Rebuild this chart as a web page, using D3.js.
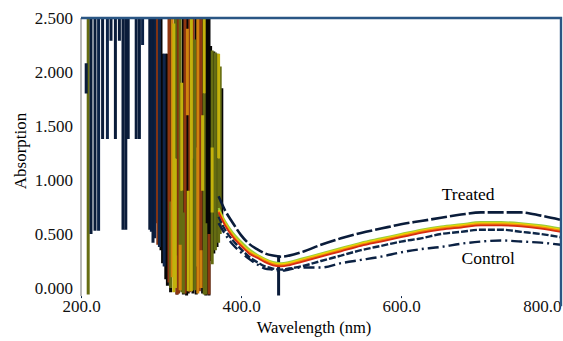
<!DOCTYPE html>
<html>
<head>
<meta charset="utf-8">
<script src="https://cdn.jsdelivr.net/npm/d3@7"></script>
<style>
  html, body { margin: 0; padding: 0; background: #fff; }
</style>
</head>
<body>
<div id="chart"></div>
<script>
// Smooth part of the spectra (nm -> absorbance)
const wavelengths = [372, 380, 390, 400, 410, 420, 430, 440, 450, 460, 475, 500, 525, 550, 575, 600, 625, 650, 675, 700, 725, 750, 775, 800];
const treatedAbs = [0.85, 0.72, 0.60, 0.49, 0.41, 0.36, 0.32, 0.30, 0.29, 0.30, 0.33, 0.40, 0.46, 0.51, 0.55, 0.59, 0.62, 0.65, 0.68, 0.70, 0.70, 0.70, 0.67, 0.63];
const greenAbs   = [0.74, 0.62, 0.51, 0.43, 0.36, 0.31, 0.27, 0.24, 0.23, 0.24, 0.27, 0.32, 0.37, 0.42, 0.46, 0.50, 0.54, 0.57, 0.59, 0.61, 0.61, 0.60, 0.58, 0.55];
const yellowAbs  = [0.72, 0.60, 0.49, 0.41, 0.34, 0.30, 0.26, 0.23, 0.22, 0.23, 0.26, 0.31, 0.36, 0.41, 0.45, 0.49, 0.53, 0.56, 0.58, 0.60, 0.60, 0.59, 0.57, 0.54];
const orangeAbs  = [0.71, 0.59, 0.48, 0.40, 0.33, 0.29, 0.25, 0.22, 0.21, 0.22, 0.25, 0.30, 0.35, 0.40, 0.44, 0.48, 0.52, 0.55, 0.57, 0.59, 0.59, 0.58, 0.56, 0.53];
const redAbs     = [0.70, 0.58, 0.47, 0.39, 0.32, 0.28, 0.24, 0.21, 0.20, 0.21, 0.24, 0.29, 0.34, 0.39, 0.43, 0.47, 0.51, 0.54, 0.56, 0.58, 0.58, 0.57, 0.55, 0.52];
const navyAbs    = [0.66, 0.54, 0.44, 0.36, 0.29, 0.24, 0.20, 0.18, 0.17, 0.18, 0.20, 0.25, 0.30, 0.35, 0.39, 0.43, 0.46, 0.50, 0.52, 0.54, 0.54, 0.52, 0.50, 0.47];
const controlAbs = [0.60, 0.50, 0.40, 0.33, 0.27, 0.22, 0.18, 0.17, 0.16, 0.17, 0.19, 0.19, 0.23, 0.26, 0.29, 0.33, 0.36, 0.38, 0.41, 0.43, 0.44, 0.43, 0.42, 0.40];

// Noisy UV part: [wavelength, upper value, lower value] of each swing
const blackNoise = [[300, 2.6, 0.35], [302, 2.17, 0.23], [306, 2.17, 0.08], [308, 2.17, 0.02], [312, 2.6, -0.04],
  [320, 2.6, -0.06], [328, 2.6, -0.06], [332, 2.6, -0.07], [334, 2.6, -0.05], [340, 2.6, -0.05], [344, 2.6, -0.06],
  [352, 2.6, -0.05], [356, 2.6, -0.07], [358, 2.6, -0.06], [360, 2.6, -0.07], [362, 2.24, 0.25], [366, 2.19, 0.32],
  [370, 2.17, 0.38], [376, 1.85, 0.65]];
const brownNoise = [[294, 2.6, 0.60], [296, 2.6, 0.40], [310, 2.6, 0.05], [322, 2.6, -0.05], [330, 2.6, -0.05],
  [336, 2.6, -0.04], [348, 2.6, -0.03], [350, 2.6, 0.0], [340, 2.6, 1.2], [360, 0.5, -0.06], [320, 0.3, -0.06]];
const orangeNoise = [[314, 2.6, 0.10], [346, 2.6, -0.05], [324, 0.4, -0.02], [350, 0.35, 0.0], [333, 2.4, 1.6]];
const yellowNoise = [[316, 2.45, -0.04], [338, 2.6, -0.03], [372, 2.17, 1.2],
  [318, 1.2, 0.0], [326, 1.9, 0.9], [334, 0.9, -0.03], [352, 1.6, 0.9], [354, 2.5, 1.8], [364, 1.3, 0.7]];
const oliveNoise = [[209, 2.6, -0.06], [318, 2.6, 1.2], [324, 2.6, -0.02], [326, 0.9, -0.04], [342, 2.3, -0.02],
  [354, 1.8, -0.06], [364, 2.2, 0.22], [368, 2.18, 0.35], [374, 2.05, 0.5],
  [328, 0.7, -0.05], [344, 1.3, 0.2], [312, 0.8, 0.0], [356, 0.6, -0.06], [372, 1.2, 0.42]];
const navyNoise = [[298, 2.6, 0.38], [304, 2.17, 0.20]];
const controlNoise = [[222, 2.6, 0.53], [233, 2.6, 1.38], [277, 2.6, 2.25], [288, 2.6, 0.52], [292, 2.6, 0.46]];
const treatedNoise = [[206.5, 2.08, 1.80], [212.5, 2.6, 0.50], [217.5, 2.6, 0.53], [227, 2.6, 1.38], [237.5, 2.6, 2.29],
  [243, 2.6, 1.38], [248, 2.6, 2.29], [252.5, 2.6, 0.54], [256, 2.6, 0.54], [259, 2.6, 1.38], [269, 2.6, 1.38],
  [273, 2.6, 1.38], [286, 2.6, 0.54], [290, 2.6, 0.42], [447, 0.30, -0.07]];

const xTicks = [200, 400, 600, 800];
const yTicks = [0, 0.5, 1.0, 1.5, 2.0, 2.5];

const FONT = '"Liberation Serif", "DejaVu Serif", "Times New Roman", Times, serif';
const W = 563, H = 341;
const svg = d3.select('#chart').append('svg')
  .attr('width', W).attr('height', H)
  .style('font-family', FONT);

const x = d3.scaleLinear().domain([200, 800]).range([81, 561]);
const y = d3.scaleLinear().domain([0, 2.5]).range([288, 18]);

svg.append('clipPath').attr('id', 'plot')
  .append('rect')
  .attr('x', x(200)).attr('y', y(2.5))
  .attr('width', x(800) - x(200)).attr('height', y(-0.085) - y(2.5));

const plot = svg.append('g').attr('clip-path', 'url(#plot)');

// Noise strips, back to front
const noiseSets = [
  { data: blackNoise, color: '#070707' },
  { data: brownNoise, color: '#8e3610' },
  { data: oliveNoise, color: '#656c12' },
  { data: orangeNoise, color: '#d0820e' },
  { data: yellowNoise, color: '#c2b20c' },
  { data: navyNoise, color: '#10264a' },
  { data: controlNoise, color: '#0c2246' },
  { data: treatedNoise, color: '#0a1c3a' }
];

noiseSets.forEach(s => {
  plot.append('g')
    .selectAll('line')
    .data(s.data)
    .join('line')
    .attr('x1', d => x(d[0])).attr('x2', d => x(d[0]))
    .attr('y1', d => y(d[1])).attr('y2', d => y(d[2]))
    .attr('stroke', s.color)
    .attr('stroke-width', 3);
});

// Smooth curves
const line = d3.line()
  .x((d, i) => x(wavelengths[i]))
  .y(d => y(d))
  .curve(d3.curveMonotoneX);

const curves = [
  { values: navyAbs, color: '#0e2748', width: 2.4, dash: '7,2' },
  { values: controlAbs, color: '#0b2143', width: 2.4, dash: '11,4,2,4' },
  { values: greenAbs, color: '#9ccc3a', width: 2, dash: null },
  { values: yellowAbs, color: '#f0d800', width: 2, dash: null },
  { values: orangeAbs, color: '#f08a10', width: 2, dash: null },
  { values: redAbs, color: '#d82c10', width: 1.8, dash: null },
  { values: treatedAbs, color: '#0a1c3a', width: 2.6, dash: '16,3' }
];

curves.forEach(c => {
  plot.append('path')
    .datum(c.values)
    .attr('fill', 'none')
    .attr('stroke', c.color)
    .attr('stroke-width', c.width)
    .attr('stroke-dasharray', c.dash)
    .attr('d', line);
});

// Axes
const yAxis = svg.append('g')
  .attr('transform', `translate(${x(200)},0)`)
  .call(d3.axisLeft(y).tickValues(yTicks).tickFormat(d3.format('.3f')).tickSize(0).tickPadding(8));
yAxis.attr('font-family', null).attr('font-size', null);
yAxis.select('.domain').remove();
yAxis.selectAll('text').style('font-size', '17px').style('font-family', FONT).attr('fill', '#111');

svg.append('line')
  .attr('x1', x(200)).attr('x2', x(200))
  .attr('y1', y(2.5)).attr('y2', y(-0.075))
  .attr('stroke', '#a8a8a8').attr('stroke-width', 1.6);

const xAxis = svg.append('g')
  .attr('transform', `translate(0,${y(-0.075)})`)
  .call(d3.axisBottom(x).tickValues(xTicks).tickFormat(d3.format('.1f')).tickSize(2).tickPadding(2));
xAxis.attr('font-family', null).attr('font-size', null);
xAxis.select('.domain').remove();
xAxis.selectAll('line').attr('stroke', '#0a2244');
xAxis.selectAll('text').style('font-size', '17px').style('font-family', FONT).attr('fill', '#111');
xAxis.selectAll('.tick').filter(d => d === 800).select('text').attr('text-anchor', 'end');

// Frame (top and right)
svg.append('path')
  .attr('d', `M${x(200)},${y(2.5)}H${x(800)}V${y(-0.17)}`)
  .attr('fill', 'none')
  .attr('stroke', '#2a5684')
  .attr('stroke-width', 2.4);

// Titles
svg.append('text')
  .attr('x', (x(200) + x(800)) / 2 - 7)
  .attr('y', 333)
  .attr('text-anchor', 'middle')
  .style('font-size', '16.5px')
  .style('font-family', FONT)
  .text('Wavelength (nm)');

svg.append('text')
  .attr('transform', `translate(26,${(y(0) + y(2.5)) / 2 - 2}) rotate(-90)`)
  .attr('text-anchor', 'middle')
  .style('font-size', '17px')
  .style('font-family', FONT)
  .text('Absorption');

// Annotations
svg.append('text')
  .attr('x', x(684)).attr('y', y(0.815))
  .attr('text-anchor', 'middle')
  .style('font-size', '17.5px')
  .style('font-family', FONT)
  .text('Treated');

svg.append('text')
  .attr('x', x(709)).attr('y', y(0.22))
  .attr('text-anchor', 'middle')
  .style('font-size', '17.5px')
  .style('font-family', FONT)
  .text('Control');
</script>
</body>
</html>
